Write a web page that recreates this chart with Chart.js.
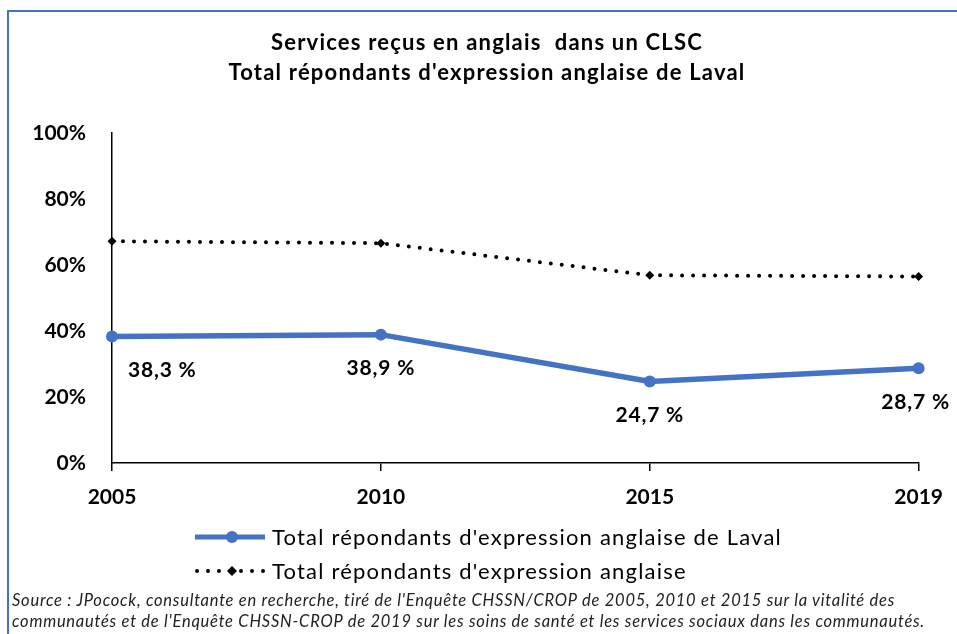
<!DOCTYPE html>
<html lang="fr">
<head>
<meta charset="utf-8">
<title>Services reçus en anglais dans un CLSC</title>
<script src="https://cdn.jsdelivr.net/npm/chart.js@4.4.1/dist/chart.umd.min.js"></script>
<style>
  html, body { margin: 0; padding: 0; background: #fff; }
  body { width: 957px; height: 634px; position: relative; overflow: hidden; font-family: Lato, "Open Sans", sans-serif; color: #000; }
  #frame { position: absolute; left: 7px; top: 10px; width: 1000px; height: 700px; border: 2px solid #4472c4; box-sizing: border-box; }
  #wrap { position: absolute; left: 0; top: 0; width: 957px; height: 634px; }
  #title { position: absolute; left: 0; top: 27px; width: 974px; text-align: center; font-weight: 700; font-size: 22px; letter-spacing: 1.2px; line-height: 30px; }
  #legend { position: absolute; left: 194px; top: 520px; font-size: 22px; letter-spacing: 1.2px; line-height: 34px; }
  #legend .row { display: flex; align-items: center; height: 34px; }
  #legend svg { margin-right: 6px; }
  #source { position: absolute; left: 12px; top: 590px; font-style: italic; font-size: 16.5px; letter-spacing: 0.75px; line-height: 21px; color: #222; white-space: nowrap; }
</style>
</head>
<body>
<div id="frame"></div>
<div id="wrap"><canvas id="chart" width="957" height="634"></canvas></div>
<div id="title">Services reçus en anglais&nbsp; dans un CLSC<br>Total répondants d'expression anglaise de Laval</div>
<div id="legend">
  <div class="row">
    <svg width="72" height="20"><line x1="1" y1="10" x2="71" y2="10" stroke="#4472c4" stroke-width="5"/><circle cx="38" cy="10" r="6" fill="#4472c4"/></svg>
    <span>Total répondants d'expression anglaise de Laval</span>
  </div>
  <div class="row">
    <svg width="72" height="20"><line x1="3" y1="10" x2="71" y2="10" stroke="#000" stroke-width="4" stroke-linecap="round" stroke-dasharray="0 11"/><polygon points="38,5 43,10 38,15 33,10" fill="#000"/></svg>
    <span>Total répondants d'expression anglaise</span>
  </div>
</div>
<div id="source">Source : JPocock, consultante en recherche, tiré de l'Enquête CHSSN/CROP de 2005, 2010 et 2015 sur la vitalité des<br>communautés et de l'Enquête CHSSN-CROP de 2019 sur les soins de santé et les services sociaux dans les communautés.</div>

<script>
// ---------- données ----------
const years = ['2005', '2010', '2015', '2019'];
const lavalValues = [38.3, 38.9, 24.7, 28.7];     // répondants de Laval (%)
const allValues = [67.2, 66.6, 56.9, 56.5];       // tous les répondants (%)
const yTicks = [0, 20, 40, 60, 80, 100];

const BLUE = '#4472c4';
const TICK_FONT = { family: 'Lato', weight: 'bold', size: 21 };

// étiquettes de valeur sous la série bleue
const valueLabels = {
  id: 'valueLabels',
  afterDatasetsDraw(chart) {
    const ctx = chart.ctx;
    const meta = chart.getDatasetMeta(0);
    ctx.save();
    ctx.font = 'bold 21px Lato';
    ctx.letterSpacing = '0.8px';
    ctx.fillStyle = '#000';
    ctx.textBaseline = 'middle';
    meta.data.forEach(function (pt, i) {
      const txt = lavalValues[i].toFixed(1).replace('.', ',') + ' %';
      if (i === 0) {
        ctx.textAlign = 'left';
        ctx.fillText(txt, pt.x + 16, pt.y + 34);
      } else {
        ctx.textAlign = 'center';
        ctx.fillText(txt, pt.x - (i === years.length - 1 ? 3 : 0), pt.y + 34);
      }
    });
    ctx.restore();
  }
};

new Chart(document.getElementById('chart'), {
  type: 'line',
  data: {
    labels: years,
    datasets: [
      {
        label: "Total répondants d'expression anglaise de Laval",
        data: lavalValues,
        borderColor: BLUE,
        backgroundColor: BLUE,
        borderWidth: 5.5,
        pointRadius: 6,
        pointBackgroundColor: BLUE,
        pointBorderWidth: 0,
        tension: 0,
        clip: false,
      },
      {
        label: "Total répondants d'expression anglaise",
        data: allValues,
        borderColor: '#000',
        backgroundColor: '#000',
        borderWidth: 4,
        borderDash: [0, 11],
        borderCapStyle: 'round',
        pointStyle: 'rectRot',
        pointRadius: 4.5,
        pointBackgroundColor: '#000',
        pointBorderWidth: 0,
        tension: 0,
        clip: false,
      },
    ],
  },
  options: {
    responsive: false,
    animation: false,
    events: [],
    layout: { padding: { top: 133, left: 0, right: 38, bottom: 121 } },
    plugins: {
      legend: { display: false },
      title: { display: false },
      tooltip: { enabled: false },
    },
    scales: {
      x: {
        offset: false,
        grid: { display: true, drawOnChartArea: false, drawTicks: true, tickLength: 8, color: '#000', lineWidth: 1.5 },
        border: { display: true, color: '#000', width: 1.5 },
        ticks: { color: '#000', font: TICK_FONT, padding: 14, maxRotation: 0 },
        afterFit: function (s) { s.height = 50; },
      },
      y: {
        min: 0,
        max: 100,
        afterBuildTicks: function (s) { s.ticks = yTicks.map(function (v) { return { value: v }; }); },
        grid: { display: true, drawOnChartArea: false, drawTicks: false },
        border: { display: true, color: '#000', width: 1.5 },
        ticks: {
          color: '#000',
          font: TICK_FONT,
          padding: 26,
          callback: function (v) { return v + '%'; },
        },
        afterFit: function (s) { s.width = 112; },
      },
    },
  },
  plugins: [valueLabels],
});
</script>
</body>
</html>
